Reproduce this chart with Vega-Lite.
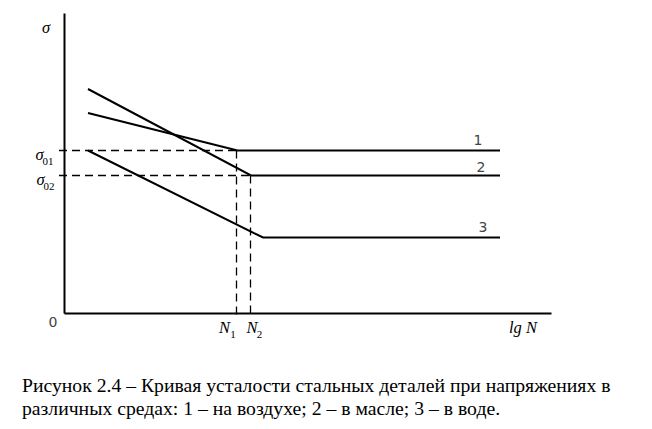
{
  "$schema": "https://vega.github.io/schema/vega-lite/v6.json",
  "width": 487,
  "height": 300,
  "autosize": {"type": "none"},
  "padding": {"left": 64, "top": 13, "right": 101, "bottom": 116},
  "background": "white",
  "config": {"view": {"stroke": null}},
  "datasets": {
    "curves": [
      {"curve": "1", "i": 0, "lgN": 24, "sigma": 200},
      {"curve": "1", "i": 1, "lgN": 173.5, "sigma": 162.5},
      {"curve": "1", "i": 2, "lgN": 436, "sigma": 162.5},
      {"curve": "2", "i": 0, "lgN": 24, "sigma": 224},
      {"curve": "2", "i": 1, "lgN": 187, "sigma": 137.5},
      {"curve": "2", "i": 2, "lgN": 436, "sigma": 137.5},
      {"curve": "3", "i": 0, "lgN": 24, "sigma": 162.5},
      {"curve": "3", "i": 1, "lgN": 199, "sigma": 75.5},
      {"curve": "3", "i": 2, "lgN": 436, "sigma": 75.5}
    ],
    "guides": [
      {"x": -5, "x2": 173.5, "y": 162.5, "y2": 162.5},
      {"x": -5, "x2": 187, "y": 137.5, "y2": 137.5},
      {"x": 172.5, "x2": 172.5, "y": 162.5, "y2": -3},
      {"x": 186.5, "x2": 186.5, "y": 137.5, "y2": -3}
    ],
    "labels": [
      {"kind": "main", "t": "σ", "x": -18, "y": 285},
      {"kind": "main", "t": "σ", "x": -24.5, "y": 158},
      {"kind": "main", "t": "σ", "x": -23.5, "y": 133},
      {"kind": "main", "t": "N", "x": 160.5, "y": -15},
      {"kind": "main", "t": "N", "x": 188, "y": -15},
      {"kind": "main", "t": "lg N", "x": 459, "y": -15},
      {"kind": "sub", "t": "01", "x": -16, "y": 151},
      {"kind": "sub", "t": "02", "x": -15, "y": 126},
      {"kind": "sub", "t": "1", "x": 169, "y": -22},
      {"kind": "sub", "t": "2", "x": 195.5, "y": -22},
      {"kind": "num", "t": "0", "x": -11, "y": -10},
      {"kind": "num", "t": "1", "x": 414, "y": 172},
      {"kind": "num", "t": "2", "x": 417, "y": 145},
      {"kind": "num", "t": "3", "x": 419, "y": 85}
    ],
    "caption": [
      {"t": "Рисунок 2.4 – Кривая усталости стальных деталей при напряжениях в", "x": -42, "y": -79},
      {"t": "различных средах: 1 – на воздухе; 2 – в масле; 3 – в воде.", "x": -42, "y": -102}
    ]
  },
  "layer": [
    {
      "data": {"name": "curves"},
      "mark": {"type": "line", "color": "black", "strokeWidth": 2, "clip": false},
      "encoding": {
        "x": {"field": "lgN", "type": "quantitative", "scale": {"domain": [0, 487], "nice": false, "zero": false},
              "axis": {"domain": true, "domainColor": "black", "domainWidth": 2, "ticks": false, "labels": false, "grid": false, "title": null}},
        "y": {"field": "sigma", "type": "quantitative", "scale": {"domain": [0, 300], "nice": false, "zero": false},
              "axis": {"domain": true, "domainColor": "black", "domainWidth": 2, "ticks": false, "labels": false, "grid": false, "title": null}},
        "detail": {"field": "curve"},
        "order": {"field": "i"}
      }
    },
    {
      "data": {"name": "guides"},
      "mark": {"type": "rule", "color": "black", "strokeWidth": 1.3, "strokeDash": [8, 5], "clip": false},
      "encoding": {
        "x": {"field": "x", "type": "quantitative"},
        "x2": {"field": "x2"},
        "y": {"field": "y", "type": "quantitative"},
        "y2": {"field": "y2"}
      }
    },
    {
      "data": {"name": "labels"},
      "transform": [{"filter": "datum.kind === 'main'"}],
      "mark": {"type": "text", "font": "Liberation Serif", "fontStyle": "italic", "fontSize": 16.5, "color": "black", "align": "center", "baseline": "middle"},
      "encoding": {
        "x": {"field": "x", "type": "quantitative"},
        "y": {"field": "y", "type": "quantitative"},
        "text": {"field": "t"}
      }
    },
    {
      "data": {"name": "labels"},
      "transform": [{"filter": "datum.kind === 'sub'"}],
      "mark": {"type": "text", "font": "Liberation Serif", "fontSize": 11, "color": "black", "align": "center", "baseline": "middle"},
      "encoding": {
        "x": {"field": "x", "type": "quantitative"},
        "y": {"field": "y", "type": "quantitative"},
        "text": {"field": "t"}
      }
    },
    {
      "data": {"name": "labels"},
      "transform": [{"filter": "datum.kind === 'num'"}],
      "mark": {"type": "text", "font": "DejaVu Sans", "fontSize": 14, "color": "#444444", "align": "center", "baseline": "middle"},
      "encoding": {
        "x": {"field": "x", "type": "quantitative"},
        "y": {"field": "y", "type": "quantitative"},
        "text": {"field": "t"}
      }
    },
    {
      "data": {"name": "caption"},
      "mark": {"type": "text", "font": "Liberation Serif", "fontSize": 19.7, "color": "black", "align": "left", "baseline": "alphabetic"},
      "encoding": {
        "x": {"field": "x", "type": "quantitative"},
        "y": {"field": "y", "type": "quantitative"},
        "text": {"field": "t"}
      }
    }
  ]
}
